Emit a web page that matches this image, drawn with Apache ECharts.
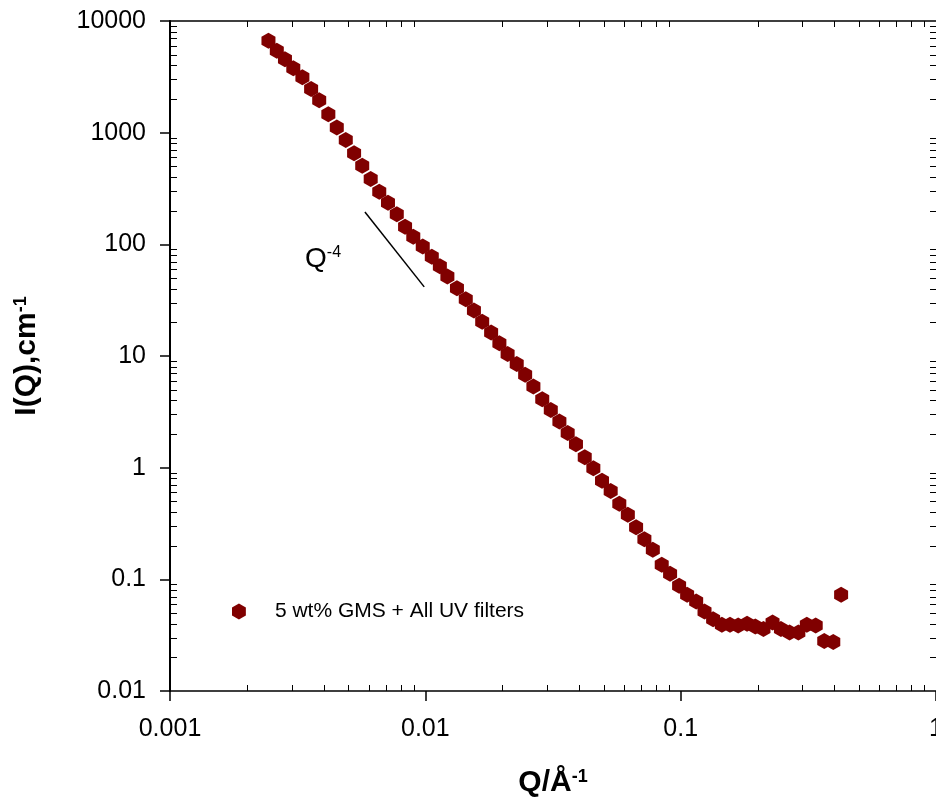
<!DOCTYPE html>
<html>
<head>
<meta charset="utf-8">
<script src="https://cdn.jsdelivr.net/npm/echarts@6/dist/echarts.min.js"></script>
<style>
  html, body { margin: 0; padding: 0; background: #fff; }
  #chart { width: 936px; height: 806px; }
</style>
</head>
<body>
<div id="chart"></div>
<script>
// data (Q in 1/Å, I in 1/cm)
const qValues = [
  0.00243, 0.00262, 0.00282, 0.00304, 0.00330, 0.00357, 0.00384, 0.00417, 0.00450, 0.00488,
  0.00526, 0.00566, 0.00611, 0.00660, 0.00714, 0.00773, 0.00833, 0.00897, 0.00977, 0.0106,
  0.0114, 0.0122, 0.0133, 0.0144, 0.0155, 0.0167, 0.0181, 0.0195, 0.0210, 0.0228,
  0.0246, 0.0265, 0.0287, 0.0310, 0.0335, 0.0361, 0.0389, 0.0421, 0.0455, 0.0492,
  0.0532, 0.0575, 0.0621, 0.0669, 0.0721, 0.0778, 0.0843, 0.0909, 0.0986, 0.106,
  0.115, 0.124, 0.134, 0.145, 0.156, 0.168, 0.182, 0.196, 0.211, 0.229,
  0.247, 0.267, 0.289, 0.312, 0.338, 0.365, 0.396, 0.425
];
const intensityValues = [
  6670, 5420, 4540, 3770, 3130, 2460, 1950, 1460, 1110, 860,
  654, 506, 385, 296, 236, 186, 144, 117, 95.4, 77.6,
  63.7, 51.4, 40.5, 32.2, 25.5, 20.3, 16.2, 13.0, 10.4, 8.50,
  6.78, 5.32, 4.10, 3.29, 2.59, 2.04, 1.62, 1.24, 0.990, 0.765,
  0.617, 0.474, 0.378, 0.293, 0.229, 0.184, 0.135, 0.112, 0.0875, 0.0726,
  0.0633, 0.0515, 0.0440, 0.0391, 0.0391, 0.0386, 0.0400, 0.0378, 0.0360, 0.0410,
  0.0360, 0.0334, 0.0334, 0.0391, 0.0386, 0.0281, 0.0274, 0.0726
];
const seriesName = '5 wt% GMS + All UV filters';

// tick labels
const xTickLabels = ['0.001', '0.01', '0.1', '1'];
const yTickLabels = ['0.01', '0.1', '1', '10', '100', '1000', '10000'];

// Q^-4 guide line and its label anchor
const slopeQ = [0.0058, 0.0099];
const slopeI = [195, 41.6];
const slopeLabelAt = [0.00338, 74];

const FONT = 'Arial, "Liberation Sans", sans-serif';
const hexagon = 'path://M0,-10 L8.66,-5 L8.66,5 L0,10 L-8.66,5 L-8.66,-5 Z';

// minor tick positions (2..9 in every decade)
const xMinor = [];
for (let e = -3; e < 0; e++) for (let m = 2; m <= 9; m++) xMinor.push(m * Math.pow(10, e));
const yMinor = [];
for (let e = -2; e < 4; e++) for (let m = 2; m <= 9; m++) yMinor.push(m * Math.pow(10, e));

const tickStyle = { stroke: '#000', lineWidth: 1 };

function renderXMinor(params, api) {
  const cs = params.coordSys;
  const x = Math.round(api.coord([api.value(0), 1])[0]) + 0.5;
  const top = cs.y, bottom = cs.y + cs.height;
  return {
    type: 'group',
    children: [
      { type: 'line', shape: { x1: x, y1: bottom, x2: x, y2: bottom - 6 }, style: tickStyle },
      { type: 'line', shape: { x1: x, y1: top, x2: x, y2: top + 6 }, style: tickStyle }
    ]
  };
}

function renderYMinor(params, api) {
  const cs = params.coordSys;
  const y = Math.round(api.coord([0.01, api.value(1)])[1]) + 0.5;
  const left = cs.x, right = cs.x + cs.width;
  return {
    type: 'group',
    children: [
      { type: 'line', shape: { x1: left, y1: y, x2: left + 7, y2: y }, style: tickStyle },
      { type: 'line', shape: { x1: right, y1: y, x2: right - 6, y2: y }, style: tickStyle }
    ]
  };
}

const decadeLabel = (labels, first) => (v) => labels[Math.round(Math.log10(v)) - first] || '';

const titleRich = {
  b: { fontFamily: FONT, fontSize: 30, fontWeight: 'bold', color: '#000', verticalAlign: 'bottom' },
  s: { fontFamily: FONT, fontSize: 18, fontWeight: 'bold', color: '#000', verticalAlign: 'top' }
};

const chart = echarts.init(document.getElementById('chart'));

chart.setOption({
  animation: false,
  backgroundColor: '#fff',
  grid: { left: 170, top: 21, width: 766, height: 670, outerBoundsMode: 'none', containLabel: false },
  legend: {
    data: [seriesName],
    left: 227,
    top: 596,
    icon: hexagon,
    itemWidth: 14,
    itemHeight: 16,
    textStyle: { fontFamily: FONT, fontSize: 21, color: '#000', padding: [0, 0, 0, 24] }
  },
  xAxis: [
    {
      type: 'log', logBase: 10, min: 0.001, max: 1,
      position: 'bottom',
      axisLine: { lineStyle: { color: '#000', width: 1.5 } },
      axisTick: { inside: false, length: 10, lineStyle: { color: '#000', width: 1.5 } },
      axisLabel: {
        fontFamily: FONT, fontSize: 25, color: '#000', margin: 26,
        showMinLabel: true, showMaxLabel: true,
        formatter: decadeLabel(xTickLabels, -3)
      },
      splitLine: { show: false },
      name: '{b|Q/Å}{s|-1}',
      nameLocation: 'middle',
      nameGap: 77,
      nameTextStyle: { rich: titleRich }
    },
    {
      type: 'log', logBase: 10, min: 0.001, max: 1,
      position: 'top',
      axisLine: { lineStyle: { color: '#000', width: 1.5 } },
      axisTick: { show: false },
      axisLabel: { show: false },
      splitLine: { show: false }
    }
  ],
  yAxis: {
    type: 'log', logBase: 10, min: 0.01, max: 10000,
    axisLine: { show: true, lineStyle: { color: '#000', width: 2 } },
    axisTick: { show: true, inside: false, length: 10, lineStyle: { color: '#000', width: 1.5 } },
    axisLabel: {
      fontFamily: FONT, fontSize: 25, color: '#000', margin: 24,
      showMinLabel: true, showMaxLabel: true,
      formatter: decadeLabel(yTickLabels, -2)
    },
    splitLine: { show: false },
    name: '{b|I(Q),cm}{s|-1}',
    nameLocation: 'middle',
    nameGap: 128,
    nameTextStyle: { rich: titleRich }
  },
  series: [
    {
      name: seriesName,
      type: 'scatter',
      data: qValues.map((q, i) => [q, intensityValues[i]]),
      symbol: hexagon,
      symbolSize: [14, 16],
      itemStyle: { color: '#800000', opacity: 1 },
      z: 5
    },
    {
      type: 'line',
      data: slopeQ.map((q, i) => [q, slopeI[i]]),
      symbol: 'none',
      lineStyle: { color: '#000', width: 1.5 },
      silent: true,
      z: 4
    },
    {
      type: 'custom',
      data: xMinor.map((v) => [v, 1]),
      renderItem: renderXMinor,
      silent: true,
      clip: false,
      z: 3
    },
    {
      type: 'custom',
      data: yMinor.map((v) => [0.01, v]),
      renderItem: renderYMinor,
      silent: true,
      clip: false,
      z: 3
    }
  ]
});

// "Q^-4" annotation, placed through the chart's own scales
const labelPos = chart.convertToPixel({ gridIndex: 0 }, slopeLabelAt);
chart.setOption({
  graphic: [{
    type: 'text',
    x: labelPos[0],
    y: labelPos[1],
    silent: true,
    style: {
      text: '{q|Q}{e|-4}',
      verticalAlign: 'middle',
      align: 'left',
      fill: '#000',
      rich: {
        q: { fontFamily: FONT, fontSize: 28, fill: '#000', verticalAlign: 'bottom' },
        e: { fontFamily: FONT, fontSize: 16, fill: '#000', verticalAlign: 'top' }
      }
    }
  }]
});
</script>
</body>
</html>
